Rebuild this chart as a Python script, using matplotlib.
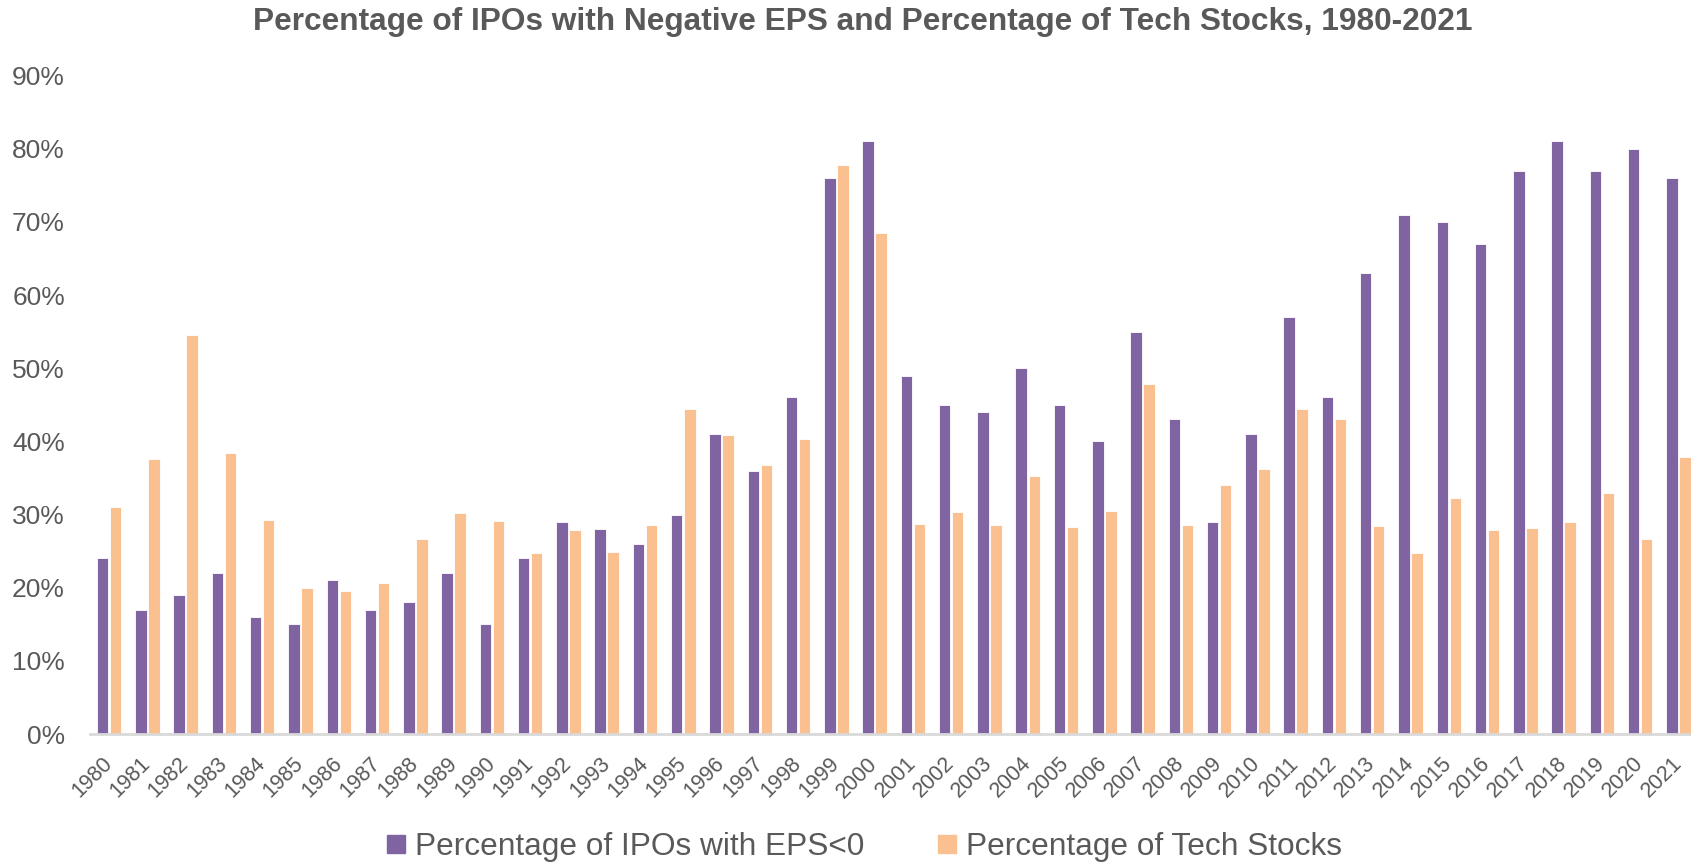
import matplotlib.pyplot as plt
import numpy as np
from matplotlib.lines import Line2D

years = [str(y) for y in range(1980, 2022)]

neg_eps = [24, 17, 19, 22, 16, 15, 21, 17, 18, 22,
           15, 24, 29, 28, 26, 30, 41, 36, 46, 76,
           81, 49, 45, 44, 50, 45, 40, 55, 43, 29,
           41, 57, 46, 63, 71, 70, 67, 77, 81, 77,
           80, 76]

tech = [31.0, 37.6, 54.6, 38.4, 29.2, 20.0, 19.6, 20.7, 26.6, 30.2,
        29.1, 24.8, 27.9, 24.9, 28.6, 44.4, 40.8, 36.7, 40.3, 77.8,
        68.5, 28.7, 30.3, 28.5, 35.2, 28.3, 30.5, 47.8, 28.5, 34.1,
        36.2, 44.4, 43.0, 28.4, 24.7, 32.2, 27.9, 28.2, 29.0, 33.0,
        26.6, 37.9]

title = "Percentage of IPOs with Negative EPS and Percentage of Tech Stocks, 1980-2021"
label_eps = "Percentage of IPOs with EPS<0"
label_tech = "Percentage of Tech Stocks"

purple = "#8064A2"
orange = "#FAC090"
text_grey = "#595959"

plt.rcParams['font.family'] = ['Liberation Sans', 'DejaVu Sans']

fig = plt.figure(figsize=(16.91, 8.66), dpi=100)
ax = fig.add_axes([0.0532, 0.1524, 0.9507, 0.7604])

x = np.arange(len(years))
w = 0.30
ax.bar(x - 0.17, neg_eps, w, color=purple, edgecolor="white", linewidth=0.6)
ax.bar(x + 0.17, tech, w, color=orange, edgecolor="white", linewidth=0.6)

ax.set_xlim(-0.5, len(years) - 0.5)
ax.set_ylim(0, 90)
ax.set_yticks(range(0, 91, 10))
ax.set_yticklabels([f"{v}%" for v in range(0, 91, 10)], fontsize=19, color=text_grey)
ax.set_xticks(x)
ax.set_xticklabels(years, rotation=45, ha="right", va="center",
                   rotation_mode="anchor", fontsize=15.5, color=text_grey)
ax.tick_params(axis="y", length=0, pad=18)
ax.tick_params(axis="x", length=0, pad=19)

for s in ["top", "right", "left"]:
    ax.spines[s].set_visible(False)
ax.spines["bottom"].set_color("#D9D9D9")
ax.spines["bottom"].set_linewidth(2)

fig.text(0.51, 0.975, title, ha="center", va="center", fontsize=22.8,
         fontweight="bold", color=text_grey)

handles = [Line2D([], [], marker="s", linestyle="none", markersize=13,
                  markerfacecolor=purple, markeredgecolor=purple),
           Line2D([], [], marker="s", linestyle="none", markersize=13,
                  markerfacecolor=orange, markeredgecolor=orange)]
fig.legend(handles, [label_eps, label_tech], loc="center", ncol=2,
           bbox_to_anchor=(0.511, 0.022), frameon=False, fontsize=22.8,
           labelcolor=text_grey, handlelength=0.6, handletextpad=0.3,
           columnspacing=2.3)

fig.savefig("out.png", dpi=100)
